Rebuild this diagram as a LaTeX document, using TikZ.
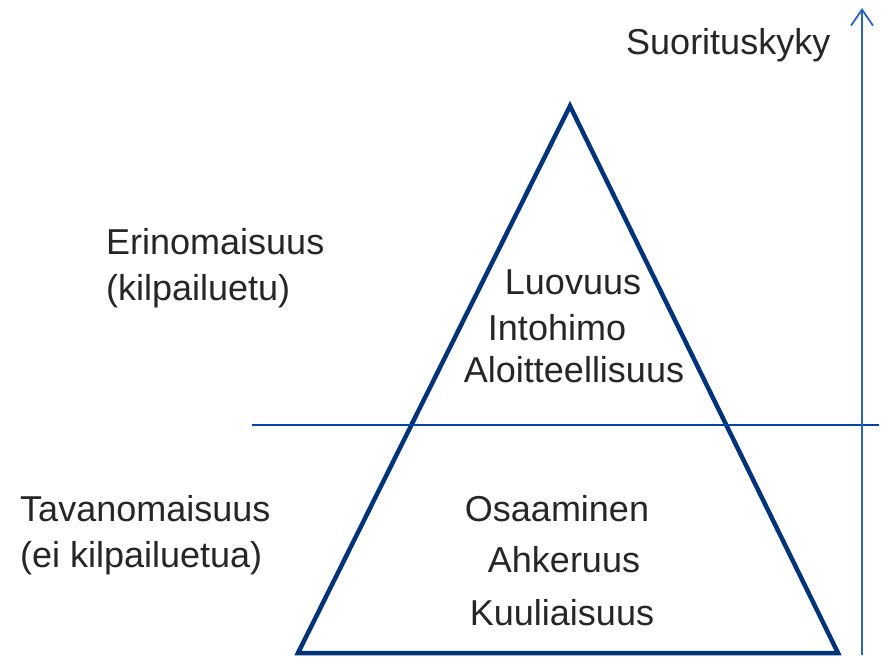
\documentclass[tikz,border=0pt]{standalone}
\usepackage{fontspec}
\setmainfont{Liberation Sans}
\usetikzlibrary{arrows.meta}
\definecolor{navy}{RGB}{0,51,122}
\definecolor{midblue}{RGB}{0,70,160}
\definecolor{axisblue}{RGB}{40,100,190}
\definecolor{txt}{RGB}{38,38,38}
\begin{document}
\begin{tikzpicture}[x=1pt,y=-1pt,
  lbl/.style={font=\fontsize{36}{42}\selectfont, text=txt, inner sep=0pt},
  tri/.style={draw=navy, line width=4.5pt, line join=miter},
  divider/.style={draw=midblue, line width=2pt},
  axis/.style={draw=axisblue, line width=1.8pt, -{Straight Barb[length=16pt,width=22pt,line width=1.8pt]}}]
\useasboundingbox[fill=white] (0,0) rectangle (890,657);
\coordinate (apex) at (570,106);
\coordinate (bl) at (298,653);
\coordinate (br) at (838,653);
\draw[tri] (apex) -- (br) -- (bl) -- cycle;
\coordinate (hl) at (252,425);
\coordinate (hr) at (879,425);
\draw[divider] (hl) -- (hr);
\coordinate (ab) at (862,655);
\coordinate (at) at (862,8);
\draw[axis] (ab) -- (at);
\node[lbl, anchor=base west] (suor) at (626,54) {Suorituskyky};
\node[lbl, anchor=base west] (erin) at (106,254) {Erinomaisuus};
\node[lbl, anchor=base west] (kilp) at (106,300) {(kilpailuetu)};
\node[lbl, anchor=base west] (tav) at (20,521) {Tavanomaisuus};
\node[lbl, anchor=base west] (eikilp) at (20,567) {(ei kilpailuetua)};
\node[lbl, anchor=base] (luo) at (573,294) {Luovuus};
\node[lbl, anchor=base] (into) at (557,340) {Intohimo};
\node[lbl, anchor=base] (aloi) at (574,382) {Aloitteellisuus};
\node[lbl, anchor=base] (osa) at (557,521) {Osaaminen};
\node[lbl, anchor=base] (ahk) at (564,572) {Ahkeruus};
\node[lbl, anchor=base] (kuu) at (562,625) {Kuuliaisuus};
\end{tikzpicture}
\end{document}
